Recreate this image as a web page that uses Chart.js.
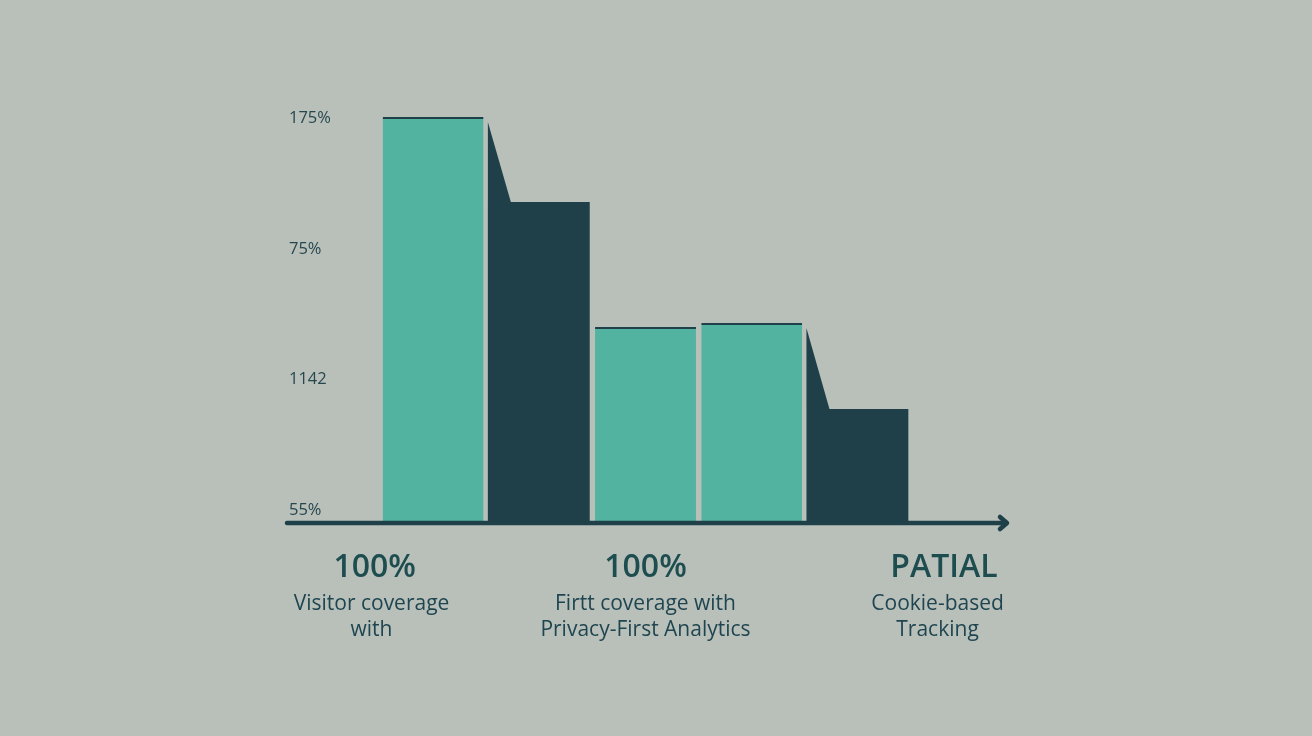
<!DOCTYPE html>
<html>
<head>
<meta charset="utf-8">
<script src="https://cdn.jsdelivr.net/npm/chart.js@4"></script>
<style>
  html, body { margin: 0; padding: 0; background: #b9c0ba; }
  canvas { display: block; }
</style>
</head>
<body>
<canvas id="c" width="1312" height="736"></canvas>
<script>
// ---- data ----
const categories = ['A', 'B', 'C', 'D', 'E'];
const barValues = [405, 320, 195, 199, 113];
const barKinds = ['privacy', 'cookie', 'privacy', 'privacy', 'cookie'];
const tickValues = [12, 143, 273, 404];
const tickLabels = ['55%', '1142', '75%', '175%'];
const groupHeads = ['100%', '100%', 'PATIAL'];
const groupLines = [
  ['Visitor coverage', 'with'],
  ['Firtt coverage with', 'Privacy-First Analytics'],
  ['Cookie-based', 'Tracking']
];

// ---- styles ----
const BG = '#b9c0ba';
const TEAL = '#52b3a0';
const DARK = '#1f4048';
const kindColor = { privacy: TEAL, cookie: DARK };
const headCenters = [-0.55, 2.0, 4.81]; // in category-index units
const lineCenters = [-0.58, 2.0, 4.75];

const wedgePlugin = {
  id: 'wedge',
  beforeDatasetsDraw(chart) {
    const ctx = chart.ctx;
    const meta = chart.getDatasetMeta(0);
    meta.data.forEach((bar, i) => {
      if (barKinds[i] !== 'cookie' || i === 0) return;
      const prev = meta.data[i - 1];
      const left = bar.x - bar.width / 2;
      ctx.save();
      ctx.fillStyle = DARK;
      ctx.beginPath();
      ctx.moveTo(left - 1, prev.y + 5);
      ctx.lineTo(left + 22, bar.y);
      ctx.lineTo(left + 22, bar.base);
      ctx.lineTo(left - 1, bar.base);
      ctx.closePath();
      ctx.fill();
      ctx.restore();
    });
  },
  afterDatasetsDraw(chart) {
    const ctx = chart.ctx;
    const ys = chart.scales.y;
    const xs = chart.scales.x;
    const y0 = ys.getPixelForValue(0) + 1;
    ctx.save();
    ctx.strokeStyle = DARK;
    ctx.lineWidth = 4.5;
    ctx.lineCap = 'round';
    ctx.lineJoin = 'round';
    ctx.beginPath();
    ctx.moveTo(287, y0);
    ctx.lineTo(1006, y0);
    ctx.stroke();
    ctx.beginPath();
    ctx.moveTo(1000, y0 - 6);
    ctx.lineTo(1007, y0);
    ctx.lineTo(1000, y0 + 6);
    ctx.stroke();

    ctx.textAlign = 'center';
    ctx.textBaseline = 'alphabetic';
    groupHeads.forEach((h, g) => {
      ctx.fillStyle = '#1e4d50';
      ctx.font = '600 32px "Open Sans"';
      ctx.fillText(h, xs.getPixelForValue(headCenters[g]), 577);
      ctx.fillStyle = '#1f4550';
      ctx.font = '400 21px "Open Sans"';
      const lx = xs.getPixelForValue(lineCenters[g]);
      groupLines[g].forEach((line, k) => {
        ctx.fillText(line, lx, 610 + k * 26);
      });
    });
    ctx.restore();
  }
};

new Chart(document.getElementById('c'), {
  type: 'bar',
  data: {
    labels: categories,
    datasets: [{
      data: barValues,
      backgroundColor: barKinds.map(k => kindColor[k]),
      borderColor: DARK,
      borderWidth: barKinds.map(k => k === 'privacy' ? { top: 2, left: 0, right: 0, bottom: 0 } : 0),
      borderSkipped: false,
      barPercentage: 0.95,
      categoryPercentage: 1.0
    }]
  },
  options: {
    responsive: false,
    devicePixelRatio: 1,
    animation: false,
    layout: { padding: { left: 289, right: 401, top: 100, bottom: 214 } },
    plugins: { legend: { display: false }, tooltip: { enabled: false } },
    scales: {
      x: { display: false },
      y: {
        min: 0,
        max: 422,
        grid: { display: false },
        border: { display: false },
        afterBuildTicks(scale) { scale.ticks = tickValues.map(v => ({ value: v })); },
        afterFit(scale) { scale.width = 91; },
        ticks: {
          crossAlign: 'far',
          padding: 0,
          color: '#27474f',
          font: { family: 'Open Sans', size: 16.5 },
          callback: (v, i) => tickLabels[i]
        }
      }
    }
  },
  plugins: [wedgePlugin]
});
</script>
</body>
</html>
